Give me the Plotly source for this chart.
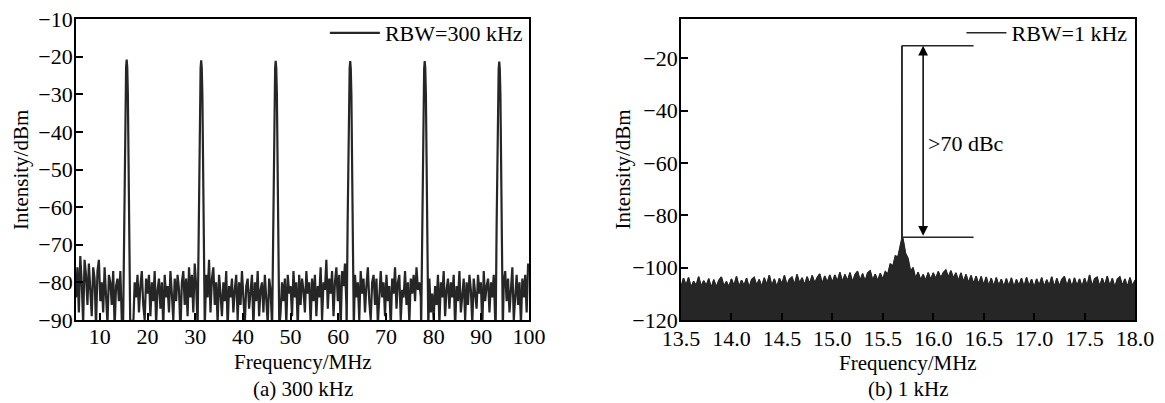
import plotly.graph_objects as go

# ---------------- data: panel (a) RBW = 300 kHz ----------------
noise_start_a = 5.0      # MHz, first sample
noise_step_a = 0.3       # MHz between samples
noise_a = [
    -84, -76, -88, -73, -80, -91, -74, -78, -86, -75,
    -82, -89, -76, -79, -92, -77, -74, -85, -80, -88,
    -76, -83, -91, -78, -80, -86, -77, -92, -81, -79,
    -85, -77, -90, -76, -74, -80, -88, -90, -92, -90,
    -92, -80, -84, -78, -88, -81, -77, -86, -90, -79,
    -83, -78, -89, -80, -85, -77, -91, -82, -79, -87,
    -80, -92, -78, -84, -81, -88, -77, -83, -90, -79,
    -85, -78, -82, -93, -80, -77, -86, -79, -89, -76,
    -84, -78, -88, -75, -81, -79, -77, -83, -76, -90,
    -72, -78, -84, -74, -88, -79, -76, -86, -80, -91,
    -78, -83, -89, -80, -85, -77, -92, -81, -84, -79,
    -88, -82, -78, -90, -80, -86, -77, -84, -91, -81,
    -79, -87, -83, -78, -92, -80, -85, -77, -89, -82,
    -80, -88, -78, -84, -91, -79, -82, -86, -77, -90,
    -90, -90, -90, -88, -80, -85, -79, -91, -78, -83,
    -81, -89, -77, -84, -80, -92, -78, -86, -79, -82,
    -88, -77, -83, -80, -91, -79, -85, -78, -89, -81,
    -84, -76, -90, -80, -82, -74, -87, -79, -83, -77,
    -89, -80, -76, -85, -78, -92, -77, -81, -75, -86,
    -90, -90, -90, -90, -92, -78, -84, -80, -90, -77,
    -83, -79, -88, -81, -76, -85, -90, -80, -78, -86,
    -79, -91, -82, -77, -84, -80, -89, -78, -85, -81,
    -92, -79, -83, -76, -87, -80, -78, -90, -82, -84,
    -77, -86, -80, -91, -79, -83, -78, -85, -76, -82,
    -80, -84, -90, -90, -90, -90, -92, -79, -88, -83,
    -90, -81, -86, -78, -91, -80, -84, -77, -89, -82,
    -79, -87, -80, -84, -78, -92, -81, -85, -77, -88,
    -83, -79, -90, -80, -86, -78, -82, -91, -79, -84,
    -87, -78, -83, -80, -92, -77, -85, -81, -79, -88,
    -80, -84, -78, -90, -90, -90, -90, -90, -90, -80,
    -77, -85, -79, -88, -81, -76, -90, -83, -78, -86,
    -80, -91, -79, -84, -78, -88, -75,
]
peak_freqs_a = [15.625, 31.25, 46.875, 62.5, 78.125, 93.75]        # MHz
peak_levels_a = [-20.8, -21.0, -21.1, -21.2, -21.2, -21.3]          # dBm
peak_offsets = [-0.75, -0.55, -0.4, -0.25, -0.12, 0.0, 0.12, 0.25, 0.4, 0.55, 0.75]
peak_shape = [-71, -44, -24, -9, -2, 0, -2, -9, -24, -44, -71]      # dB below peak
peak_halfwidth = 0.8

# ---------------- data: panel (b) RBW = 1 kHz ----------------
spec_start_b = 13.5
spec_step_b = 0.025
spec_b = [
    -107.5, -104.0, -106.8, -103.8, -107.6, -105.2, -106.9, -103.5, -107.2, -105.0,
    -106.9, -104.2, -107.8, -104.6, -107.5, -104.9, -103.6, -107.1, -105.3, -107.4,
    -104.3, -107.0, -103.4, -107.3, -104.8, -106.9, -104.0, -107.7, -104.6, -103.7,
    -106.8, -104.5, -107.4, -103.9, -106.6, -102.9, -107.0, -104.3, -107.5, -104.1,
    -106.3, -103.0, -106.8, -104.4, -103.6, -106.6, -102.6, -106.0, -103.9, -106.7,
    -103.5, -106.2, -103.0, -105.9, -103.8, -102.4, -106.1, -103.2, -105.7, -102.8,
    -105.8, -102.8, -105.3, -101.8, -105.5, -102.6, -105.1, -101.9, -105.6, -102.7,
    -101.4, -105.0, -102.3, -105.3, -102.0, -101.2, -104.9, -102.5, -105.1, -102.2,
    -104.5, -101.5, -102.5, -98.5, -99.5, -95.5, -96.0, -91.0, -89.0, -94.5,
    -96.5, -101.5, -100.0, -104.2, -101.8, -104.7, -102.6, -105.0, -101.9, -104.6,
    -102.0, -104.3, -101.5, -104.0, -101.9, -100.9, -103.8, -101.2, -104.1, -102.0,
    -105.1, -102.0, -105.5, -102.6, -105.9, -103.0, -106.2, -103.3, -106.4, -103.4,
    -106.8, -103.6, -107.1, -104.0, -107.3, -103.8, -106.9, -104.4, -107.4, -104.2,
    -107.2, -103.9, -107.6, -104.5, -107.0, -104.0, -107.5, -103.7, -107.2, -104.4,
    -107.7, -104.3, -106.9, -103.8, -107.4, -104.6, -107.0, -103.5, -107.6, -104.1,
    -107.2, -104.5, -103.4, -107.1, -104.2, -107.5, -103.9, -107.0, -104.3, -107.4,
    -104.0, -107.1, -102.8, -107.3, -104.2, -103.6, -107.4, -104.0, -106.9, -103.3,
    -107.2, -104.1, -107.6, -104.4, -103.5, -107.0, -104.3, -107.5, -103.8, -107.1,
    -104.8,
]
carrier_freq_b = 15.69
carrier_level_b = -15.2
carrier_base_b = -89.0
marker_end_b = 16.4          # end of the two reference lines (MHz)
sideband_level_b = -88.4     # lower reference line (dBm)
arrow_freq_b = 15.9
floor_b = -125.0

# ---------------- build series ----------------
noise_x = [noise_start_a + noise_step_a * i for i in range(len(noise_a))]
pts = [(x, y) for x, y in zip(noise_x, noise_a)
       if min(abs(x - c) for c in peak_freqs_a) > peak_halfwidth]
for c, lv in zip(peak_freqs_a, peak_levels_a):
    for off, d in zip(peak_offsets, peak_shape):
        pts.append((c + off, lv + d))
pts.sort()
xa = [p[0] for p in pts]
ya = [p[1] for p in pts]

xb = [spec_start_b + spec_step_b * i for i in range(len(spec_b))]
ptsb = list(zip(xb, spec_b))
ptsb += [(carrier_freq_b - 0.001, carrier_base_b), (carrier_freq_b, carrier_level_b),
         (carrier_freq_b + 0.001, carrier_base_b)]
ptsb.sort()
xb2 = [p[0] for p in ptsb]
yb2 = [p[1] for p in ptsb]

INK = "#262626"
FONT = "Liberation Serif"
FS = 22
TXT = dict(family=FONT, size=FS, color="black")
TTL = dict(family=FONT, size=21, color="black")

fig = go.Figure()
fig.add_trace(go.Scatter(x=xa, y=ya, mode="lines", name="RBW=300 kHz",
                         line=dict(color=INK, width=2.2), xaxis="x", yaxis="y",
                         legend="legend"))
fig.add_trace(go.Scatter(x=[xb[0], xb[-1]], y=[floor_b, floor_b], mode="lines",
                         line=dict(width=0, color=INK), showlegend=False,
                         xaxis="x2", yaxis="y2", hoverinfo="skip"))
fig.add_trace(go.Scatter(x=xb2, y=yb2, mode="lines", fill="tonexty", fillcolor=INK,
                         line=dict(color=INK, width=1), showlegend=False,
                         xaxis="x2", yaxis="y2"))
fig.add_trace(go.Scatter(x=xb2, y=yb2, mode="lines", name="RBW=1 kHz",
                         line=dict(color=INK, width=1.5), xaxis="x2", yaxis="y2",
                         legend="legend2"))

axis_common = dict(showline=True, linecolor="black", linewidth=1.8, mirror=True,
                   ticks="inside", ticklen=7, tickwidth=1.5, tickcolor="black",
                   showgrid=False, zeroline=False, automargin=False,
                   ticklabeloverflow="allow", tickfont=TXT)

# the page body adds an 8 px offset, so the figure is 8 px smaller than the window
fig.update_layout(
    width=1157, height=395,
    margin=dict(l=68, r=30, t=11, b=83, autoexpand=False),
    paper_bgcolor="white", plot_bgcolor="white",
    font=TXT,
    xaxis=dict(domain=[0, 0.4278], range=[5, 100], tickvals=list(range(10, 101, 10)),
               ticklabelstandoff=-4, **axis_common),
    yaxis=dict(range=[-90, -10], tickvals=list(range(-90, -9, 10)),
               ticklabelstandoff=-3, **axis_common),
    xaxis2=dict(domain=[0.5713, 1], range=[13.5, 18.0], anchor="y2",
                tickvals=[13.5 + 0.5 * i for i in range(10)], tickformat=".1f",
                ticklabelstandoff=-2, **axis_common),
    yaxis2=dict(range=[-120, -5], tickvals=list(range(-120, -19, 20)), anchor="x2",
                ticklabelstandoff=-3, **axis_common),
    legend=dict(x=0.4267, xanchor="right", y=1.0233, yanchor="top", itemwidth=50,
                bgcolor="rgba(0,0,0,0)", font=TXT),
    legend2=dict(x=0.9976, xanchor="right", y=1.0233, yanchor="top", itemwidth=40,
                 bgcolor="rgba(0,0,0,0)", font=TXT),
    showlegend=True,
)

# axis titles
fig.add_annotation(xref="x domain", yref="paper", x=0.5, y=-0.138, text="Frequency/MHz",
                   showarrow=False, yanchor="middle", font=TTL)
fig.add_annotation(xref="x2 domain", yref="paper", x=0.5, y=-0.142, text="Frequency/MHz",
                   showarrow=False, yanchor="middle", font=TTL)
fig.add_annotation(xref="paper", yref="paper", x=-0.0525, y=0.5, text="Intensity/dBm",
                   textangle=-90, showarrow=False, xanchor="center", yanchor="middle",
                   font=TTL)
fig.add_annotation(xref="paper", yref="paper", x=0.5156, y=0.5, text="Intensity/dBm",
                   textangle=-90, showarrow=False, xanchor="center", yanchor="middle",
                   font=TTL)

# reference lines and arrow for the carrier-to-noise ratio
fig.add_shape(type="line", xref="x2", yref="y2", x0=carrier_freq_b, x1=marker_end_b,
              y0=carrier_level_b, y1=carrier_level_b, line=dict(color=INK, width=1.5))
fig.add_shape(type="line", xref="x2", yref="y2", x0=carrier_freq_b, x1=marker_end_b,
              y0=sideband_level_b, y1=sideband_level_b, line=dict(color=INK, width=1.5))
fig.add_annotation(xref="x2", yref="y2", axref="x2", ayref="y2",
                   x=arrow_freq_b, y=carrier_level_b, ax=arrow_freq_b, ay=sideband_level_b,
                   text="", showarrow=True, arrowhead=2, arrowside="end+start",
                   arrowsize=1.3, arrowwidth=1.5, arrowcolor="black")
fig.add_annotation(xref="x2", yref="y2", x=arrow_freq_b + 0.03, y=-52.6,
                   text="&gt;70 dBc", showarrow=False, xanchor="left", font=TXT)

# sub-figure captions
fig.add_annotation(xref="x domain", yref="paper", x=0.5, y=-0.228, text="(a) 300 kHz",
                   showarrow=False, yanchor="middle", font=TTL)
fig.add_annotation(xref="x2 domain", yref="paper", x=0.5, y=-0.228, text="(b) 1 kHz",
                   showarrow=False, yanchor="middle", font=TTL)

fig.write_html("out.html")
